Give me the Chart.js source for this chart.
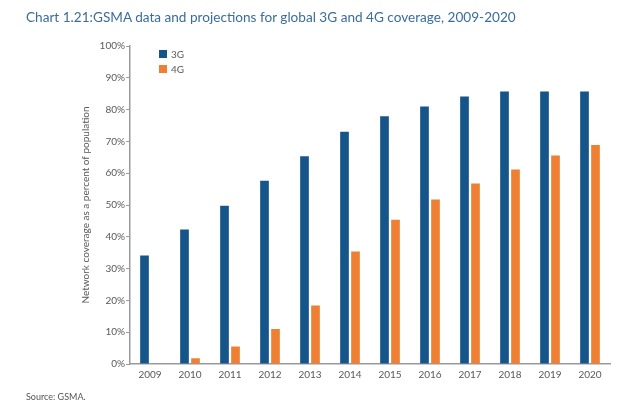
<!DOCTYPE html>
<html>
<head>
<meta charset="utf-8">
<script src="https://cdn.jsdelivr.net/npm/chart.js@4/dist/chart.umd.min.js"></script>
<style>
    body { margin: 0; background: #fff; }
    .wrap { position: relative; width: 620px; height: 408px; font-family: Lato, sans-serif; }
    .title { position: absolute; left: 26px; top: 9px; font-size: 13.6px; color: #3a6d9c; white-space: nowrap; }
    .source { position: absolute; left: 26px; top: 391px; font-size: 9px; color: #555; }
    canvas { position: absolute; left: 0; top: 0; }
</style>
</head>
<body>
<div class="wrap">
    <canvas id="chart" width="620" height="408"></canvas>
    <div class="title">Chart 1.21:GSMA data and projections for global 3G and 4G coverage, 2009-2020</div>
    <div class="source">Source: GSMA.</div>
</div>
<script>
const years = ['2009', '2010', '2011', '2012', '2013', '2014', '2015', '2016', '2017', '2018', '2019', '2020'];
const cov3g = [34.1, 42.3, 49.8, 57.6, 65.3, 73.0, 77.9, 81.0, 84.1, 85.7, 85.7, 85.7];
const cov4g = [null, 1.8, 5.5, 11.0, 18.4, 35.4, 45.4, 51.7, 56.8, 61.2, 65.6, 68.9];
const yTicks = [0, 10, 20, 30, 40, 50, 60, 70, 80, 90, 100];

// legend drawn inside the plot area, top left
const boxLegend = {
    id: 'boxLegend',
    afterDraw(chart) {
        const ctx = chart.ctx;
        const area = chart.chartArea;
        ctx.save();
        ctx.font = '10px Lato';
        ctx.textBaseline = 'middle';
        chart.data.datasets.forEach((ds, i) => {
            const x = area.left + 29;
            const y = area.top + 4 + i * 15;
            ctx.fillStyle = ds.backgroundColor;
            ctx.fillRect(x, y, 8, 8);
            ctx.fillStyle = '#595959';
            ctx.fillText(ds.label, x + 12, y + 4.5);
        });
        ctx.restore();
    }
};

new Chart(document.getElementById('chart').getContext('2d'), {
    type: 'bar',
    data: {
        labels: years,
        datasets: [{
            label: '3G',
            data: cov3g,
            backgroundColor: '#16558a',
            categoryPercentage: 0.55,
            barPercentage: 0.79
        }, {
            label: '4G',
            data: cov4g,
            backgroundColor: '#ee7f33',
            categoryPercentage: 0.55,
            barPercentage: 0.79
        }]
    },
    options: {
        responsive: false,
        animation: false,
        layout: {padding: {left: 80, right: 10, top: 46, bottom: 22}},
        plugins: {
            legend: {display: false},
            tooltip: {enabled: false}
        },
        scales: {
            x: {
                grid: {display: false, drawTicks: false},
                border: {display: true, color: '#9a9a9a', width: 1.5},
                ticks: {color: '#595959', font: {family: 'Lato', size: 10}, padding: 5}
            },
            y: {
                min: 0,
                max: 100,
                afterBuildTicks: scale => { scale.ticks = yTicks.map(v => ({value: v})); },
                afterFit: scale => { scale.width = 50; },
                grid: {drawOnChartArea: false, drawTicks: true, tickLength: 4, color: '#9a9a9a'},
                border: {display: true, color: '#9a9a9a', width: 1.5},
                ticks: {
                    color: '#595959',
                    font: {family: 'Lato', size: 10},
                    padding: 1,
                    callback: v => v + '%'
                },
                title: {
                    display: true,
                    text: 'Network coverage as a percent of population',
                    color: '#595959',
                    font: {family: 'Lato', size: 10},
                    padding: 0
                }
            }
        }
    },
    plugins: [boxLegend]
});
</script>
</body>
</html>
